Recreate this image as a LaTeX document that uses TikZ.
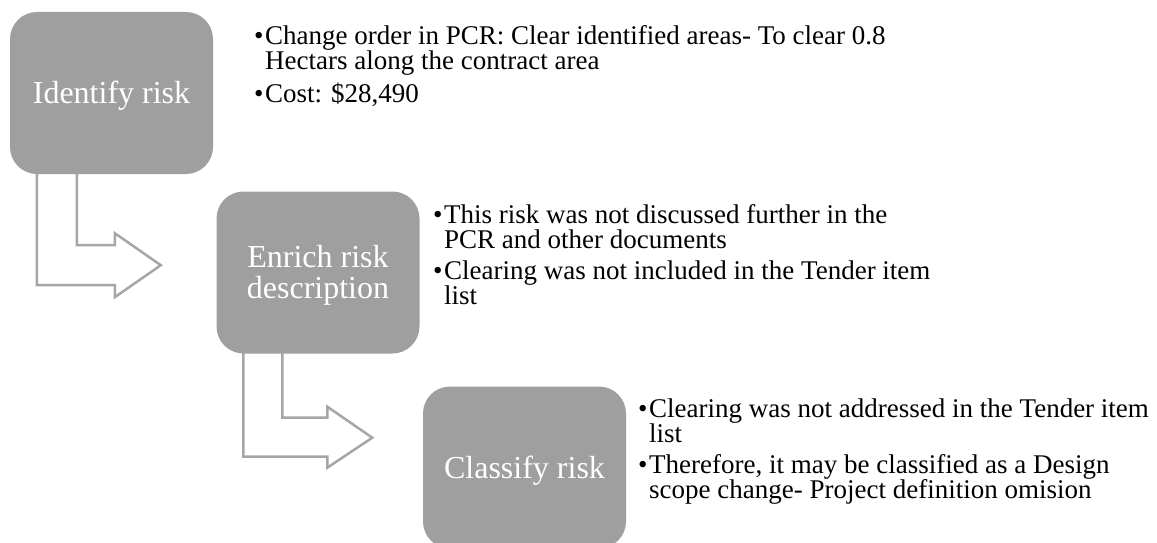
\documentclass[tikz,border=0pt]{standalone}
\usepackage{fontspec}
\setmainfont{Liberation Serif}
\usetikzlibrary{backgrounds}
\definecolor{boxgray}{RGB}{160,159,160}
\definecolor{arrowgray}{RGB}{166,166,166}
\tikzset{
  stagebox/.style={draw=none, fill=boxgray, rounded corners=27pt,
    inner sep=0pt, minimum width=203pt, minimum height=162pt},
  stagelabel/.style={text=white, font=\fontsize{32}{31}\selectfont,
    align=center, inner sep=0pt},
  bentarrow/.style={draw=arrowgray, fill=white, line width=2.5pt, line join=miter},
  notes/.style={anchor=base west, inner sep=0pt, font=\fontsize{27}{25}\selectfont},
}
% one bulleted paragraph with a hanging indent
\newcommand{\noteitem}[1]{\par\hangindent=11pt\hangafter=1\noindent\makebox[11pt][l]{\textbullet}#1}
% a top-aligned block of bulleted paragraphs
\newcommand{\notelist}[1]{\parbox[t]{800pt}{\setlength{\parskip}{6pt}#1}}
\begin{document}
\begin{tikzpicture}[x=1pt, y=-1pt]
  \useasboundingbox (0,0) rectangle (1157,543);
  \clip (0,0) rectangle (1157,543);

  % process stages
  \node[stagebox] (b1) at (111.5,93) {};
  \node[stagebox] (b2) at (318,272.5) {};
  \node[stagebox] (b3) at (524.5,467.5) {};
  \node[stagelabel] (l1) at ([yshift=-3pt]b1.center) {Identify risk};
  \node[stagelabel] (l2) at ([yshift=-3pt]b2.center) {Enrich risk\\description};
  \node[stagelabel] (l3) at ([yshift=-3pt]b3.center) {Classify risk};

  % bent arrows leading from one stage to the next
  \begin{scope}[on background layer]
    \begin{scope}[shift={(b1.south west)}]
      \filldraw[bentarrow] (67,-4) -- (67,71) -- (105,71) -- (105,59) -- (151,91)
        -- (105,123) -- (105,111) -- (27,111) -- (27,-4);
    \end{scope}
    \begin{scope}[shift={(b2.south west)}]
      \filldraw[bentarrow] (66,-4) -- (66,64) -- (111,64) -- (111,53) -- (156,84)
        -- (111,114) -- (111,103) -- (27,103) -- (27,-4);
    \end{scope}
  \end{scope}

  % notes beside each stage
  \node[notes] (n1) at (254,45) {\notelist{%
    \noteitem{Change order in PCR: Clear identified areas- To clear 0.8\newline Hectars along the contract area}
    \noteitem{Cost: \$28,490}}};
  \node[notes] (n2) at (433,223) {\notelist{%
    \noteitem{This risk was not discussed further in the\newline PCR and other documents}
    \noteitem{Clearing was not included in the Tender item\newline list}}};
  \node[notes] (n3) at (638,417) {\notelist{%
    \noteitem{Clearing was not addressed in the Tender item\newline list}
    \noteitem{Therefore, it may be classified as a Design\newline scope change- Project definition omision}}};
\end{tikzpicture}
\end{document}
